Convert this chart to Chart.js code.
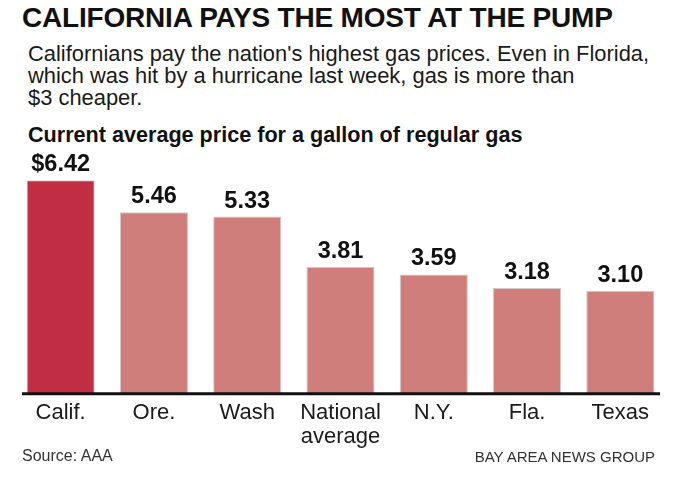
<!DOCTYPE html>
<html>
<head>
<meta charset="utf-8">
<script src="https://cdn.jsdelivr.net/npm/chart.js@4.4.1/dist/chart.umd.min.js"></script>
<style>
  html, body { margin: 0; padding: 0; background: #fff; }
  body { width: 690px; height: 489px; position: relative; overflow: hidden; font-family: "Liberation Sans", Arial, sans-serif; }
  .t { position: absolute; white-space: nowrap; color: #111; }
  #title { left: 22px; top: 4px; font-size: 28px; font-weight: bold; line-height: 28px; letter-spacing: -0.2px; }
  #sub { left: 28px; top: 43px; font-size: 21.9px; line-height: 22px; color: #1a1a1a; }
  #chartTitle { left: 28px; top: 124px; font-size: 21.6px; font-weight: bold; line-height: 21px; }
  #source { left: 22px; top: 448px; font-size: 16px; line-height: 16px; color: #333; }
  #credit { right: 35px; top: 449px; font-size: 15px; line-height: 15px; color: #333; }
  canvas { position: absolute; left: 0; top: 0; }
</style>
</head>
<body>
<div class="t" id="title">CALIFORNIA PAYS THE MOST AT THE PUMP</div>
<div class="t" id="sub">Californians pay the nation's highest gas prices. Even in Florida,<br>which was hit by a hurricane last week, gas is more than<br>$3 cheaper.</div>
<div class="t" id="chartTitle">Current average price for a gallon of regular gas</div>
<canvas id="c" width="690" height="489"></canvas>
<div class="t" id="source">Source: AAA</div>
<div class="t" id="credit">BAY AREA NEWS GROUP</div>
<script>
const categories = [["Calif."], ["Ore."], ["Wash"], ["National", "average"], ["N.Y."], ["Fla."], ["Texas"]];
const prices = [6.42, 5.46, 5.33, 3.81, 3.59, 3.18, 3.10];
const barColors = ["#c12d42", "#d07e7b", "#d07e7b", "#d07e7b", "#d07e7b", "#d07e7b", "#d07e7b"];

const valueLabels = {
  id: "valueLabels",
  afterDatasetsDraw(chart) {
    const ctx = chart.ctx;
    const meta = chart.getDatasetMeta(0);
    const area = chart.chartArea;
    ctx.save();
    // baseline axis line
    ctx.strokeStyle = "#111";
    ctx.lineWidth = 3;
    ctx.beginPath();
    ctx.moveTo(area.left + 8, area.bottom);
    ctx.lineTo(area.right - 7, area.bottom);
    ctx.stroke();
    ctx.fillStyle = "#111";
    ctx.font = "bold 23.5px 'Liberation Sans', Arial, sans-serif";
    ctx.textAlign = "center";
    ctx.textBaseline = "alphabetic";
    meta.data.forEach((bar, i) => {
      const v = prices[i];
      const txt = (i === 0 ? "$" : "") + v.toFixed(2);
      ctx.fillText(txt, bar.x, bar.y - 9);
    });
    ctx.restore();
  }
};

new Chart(document.getElementById("c"), {
  type: "bar",
  data: {
    labels: categories,
    datasets: [{
      data: prices,
      backgroundColor: barColors,
      borderColor: "rgba(130,100,100,0.35)",
      borderWidth: 1,
      barPercentage: 0.73,
      categoryPercentage: 1.0
    }]
  },
  options: {
    responsive: false,
    devicePixelRatio: 1,
    animation: false,
    layout: { padding: { top: 161, left: 14, right: 23, bottom: 33 } },
    plugins: { legend: { display: false }, tooltip: { enabled: false }, title: { display: false } },
    scales: {
      x: {
        grid: { display: false, drawTicks: false },
        border: { display: false },
        ticks: {
          color: "#1a1a1a",
          padding: 8,
          maxRotation: 0,
          autoSkip: false,
          font: { family: "'Liberation Sans', Arial, sans-serif", size: 22, lineHeight: 1.05 }
        }
      },
      y: { display: false, min: 0, max: 7 }
    }
  },
  plugins: [valueLabels]
});
</script>
</body>
</html>
